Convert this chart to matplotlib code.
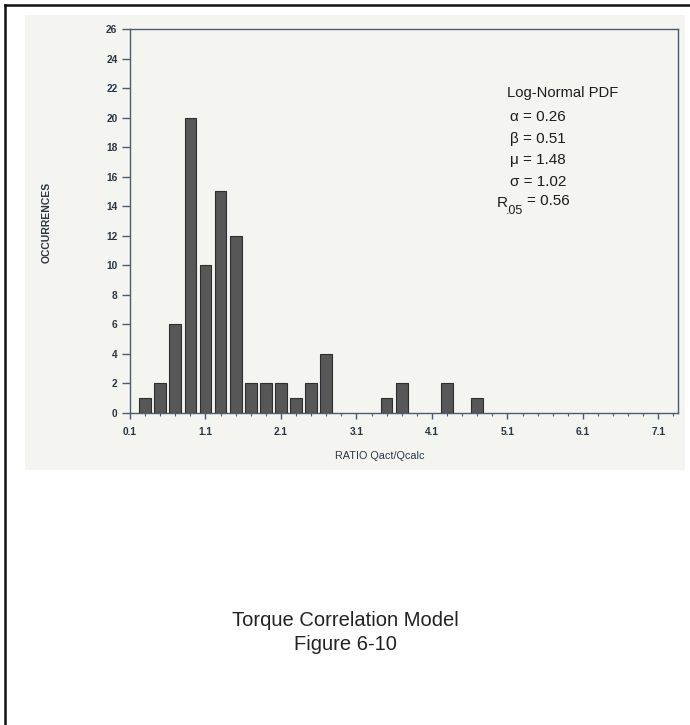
"""Histogram of the torque correlation ratio Qact/Qcalc (Figure 6-10)"""

import matplotlib.pyplot as plt
from matplotlib.patches import Rectangle
from matplotlib.lines import Line2D
import numpy as np

# bin centres of the ratio and number of occurrences in each bin
bin_centers = [0.3, 0.5, 0.7, 0.9, 1.1, 1.3, 1.5, 1.7, 1.9, 2.1, 2.3, 2.5, 2.7,
               3.5, 3.7, 4.3, 4.7]
occurrences = [1, 2, 6, 20, 10, 15, 12, 2, 2, 2, 1, 2, 4,
               1, 2, 2, 1]

x_ticks = [0.1, 1.1, 2.1, 3.1, 4.1, 5.1, 6.1, 7.1]
y_ticks = list(range(0, 27, 2))

pdf_title = "Log-Normal PDF"
pdf_params = ["\u03b1 = 0.26", "\u03b2 = 0.51", "\u03bc = 1.48", "\u03c3 = 1.02"]
r05_value = "= 0.56"

caption = ["Torque Correlation Model", "Figure 6-10"]

W, H = 690, 725
plt.rcParams['font.family'] = ['Liberation Sans', 'DejaVu Sans']

fig = plt.figure(figsize=(W / 100, H / 100), dpi=100)
fig.patch.set_facecolor('white')

# light grey background of the scanned chart
fig.patches.append(Rectangle((25 / W, 1 - 470 / H), 660 / W, 455 / H,
                             transform=fig.transFigure, facecolor='#f4f4f1',
                             edgecolor='none', zorder=-5))

# page frame (left and top edge)
fig.lines.append(Line2D([5 / W, 5 / W], [0, 1 - 5 / H], transform=fig.transFigure,
                        color='#111111', linewidth=1.8))
fig.lines.append(Line2D([5 / W, 1], [1 - 5 / H, 1 - 5 / H], transform=fig.transFigure,
                        color='#111111', linewidth=1.8))

spine_color = '#4a5d70'
label_color = '#283644'
text_color = '#1c1c1c'

ax = fig.add_axes([130 / W, 1 - 413 / H, 548 / W, 384 / H])
ax.set_zorder(2)
ax.set_facecolor('none')
ax.bar(bin_centers, occurrences, width=0.155, color='#575757',
       edgecolor='#2e2e2e', linewidth=0.8, zorder=3)

ax.set_xlim(0.1, 7.36)
ax.set_ylim(0, 26)
ax.set_xticks(x_ticks)
ax.set_xticks(np.arange(0.1, 7.36, 0.2), minor=True)
ax.set_yticks(y_ticks)

for spine in ax.spines.values():
    spine.set_color(spine_color)
    spine.set_linewidth(1.0)

ax.tick_params(axis='y', direction='out', length=6, width=1.0, color=spine_color,
               labelsize=7.3, labelcolor=label_color, pad=3)
ax.tick_params(axis='x', which='major', direction='out', length=4, width=1.0,
               color=spine_color, labelsize=7.3, labelcolor=label_color, pad=6)
ax.tick_params(axis='x', which='minor', direction='out', length=2.5, width=0.8,
               color=spine_color)
for lab in ax.get_xticklabels() + ax.get_yticklabels():
    lab.set_fontweight('bold')

# axis labels
fig.text(47 / W, 1 - 222 / H, "OCCURRENCES", rotation=90, ha='center', va='center',
         fontsize=7.5, fontweight='bold', color=label_color)
fig.text(380 / W, 1 - 456 / H, "RATIO Qact/Qcalc", ha='center', va='center',
         fontsize=7.8, color=label_color)

# parameters of the fitted distribution
fig.text(507 / W, 1 - 93 / H, pdf_title, ha='left', va='center',
         fontsize=10.6, color=text_color)
rows_y = [117, 139, 160, 182]
for text, y in zip(pdf_params, rows_y):
    fig.text(510 / W, 1 - y / H, text, ha='left', va='center',
             fontsize=11, color=text_color)
fig.text(497 / W, 1 - 203 / H, "R", ha='left', va='center', fontsize=11, color=text_color)
fig.text(506 / W, 1 - 211 / H, ".05", ha='left', va='center', fontsize=9, color=text_color)
fig.text(527 / W, 1 - 201 / H, r05_value, ha='left', va='center',
         fontsize=11, color=text_color)

# caption under the chart
fig.text(0.5, 1 - 621 / H, caption[0], ha='center', va='center',
         fontsize=14.5, color='#222222')
fig.text(0.5, 1 - 644 / H, caption[1], ha='center', va='center',
         fontsize=14.5, color='#222222')

fig.savefig("out.png", dpi=100)
